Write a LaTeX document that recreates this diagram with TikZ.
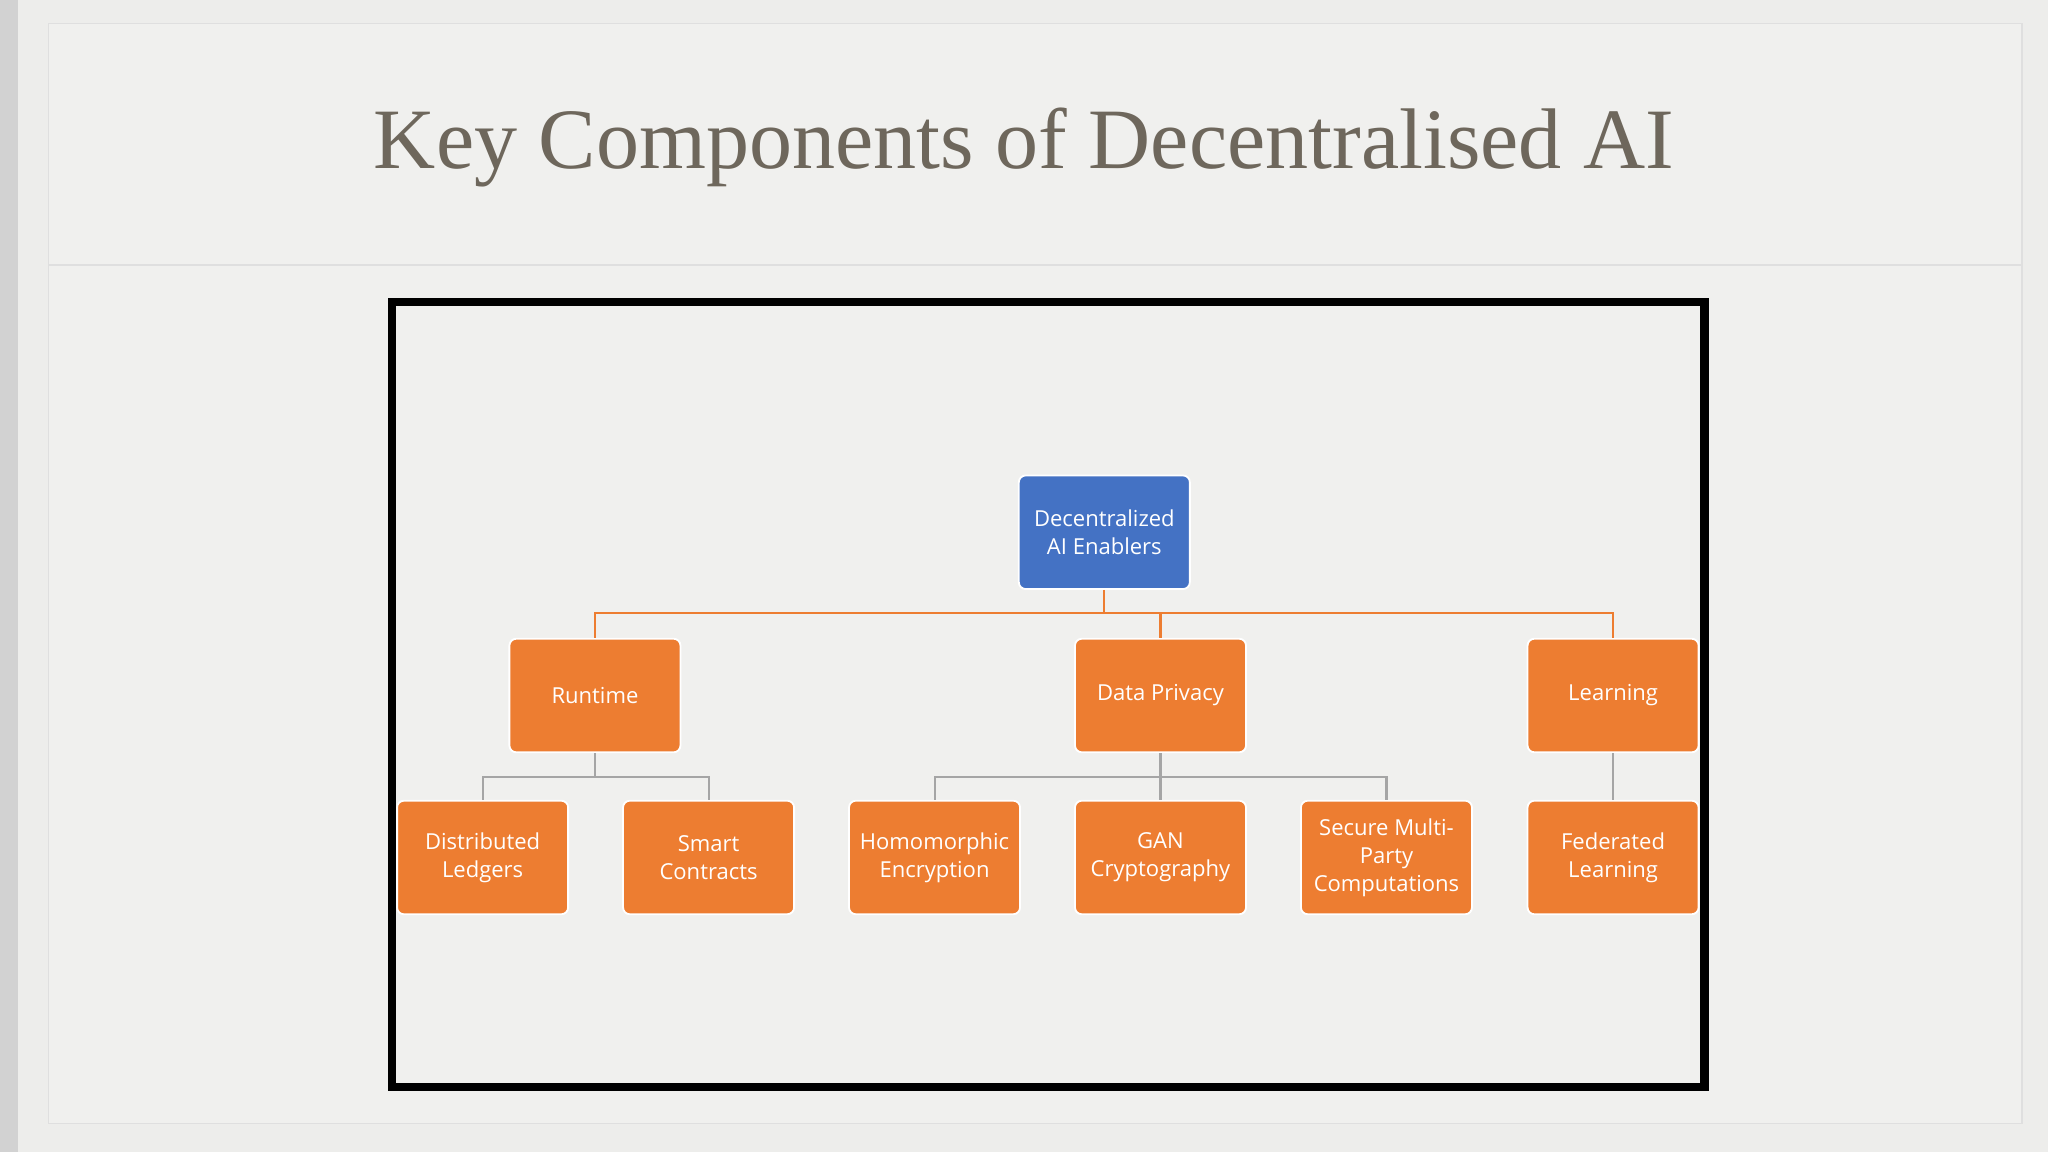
\documentclass[tikz,border=0pt]{standalone}
\usepackage{fontspec}
\setmainfont{Open Sans}
\newfontfamily\titlefont{Liberation Serif}
\definecolor{bg}{HTML}{EDEDEB}
\definecolor{panel}{HTML}{F0F0EE}
\definecolor{titlec}{HTML}{6E675C}
\definecolor{blueb}{HTML}{4472C4}
\definecolor{orb}{HTML}{ED7D31}
\definecolor{linec}{HTML}{A5A5A5}
\begin{document}
\begin{tikzpicture}[x=0.02cm,y=-0.02cm,
  box/.style={draw=white,line width=0.8pt,rounded corners=3pt,minimum width=2.62cm,minimum height=1.74cm,text=white,align=center,font=\fontsize{9.6}{12.2}\selectfont,inner sep=1pt},
  root/.style={box,fill=blueb},
  leaf/.style={box,fill=orb},
  oconn/.style={draw=orb,line width=0.9pt},
  gconn/.style={draw=linec,line width=0.9pt}]
\useasboundingbox (0,0) rectangle (1568,882);
\fill[bg] (0,0) rectangle (1568,882);
\fill[gray!35] (0,0) rectangle (14,882);
\fill[panel] (37,18) rectangle (1548,860);
\draw[gray!25,line width=0.6pt] (37,18) rectangle (1548,860);
\draw[gray!25,line width=0.6pt] (37,203) -- (1548,203);
\node[text=titlec,font=\titlefont\fontsize{37.5}{44}\selectfont] (title) at (784,113) {Key Components of Decentralised AI};
\draw[black,line width=3.5pt] (300,231) rectangle (1305,832);
\node[root] (r) at (845.5,407.5) {Decentralized\\AI Enablers};
\node[leaf] (rt) at (455.5,532.5) {Runtime};
\node[leaf] (dp) at (888.5,532.5) {Data Privacy};
\node[leaf] (le) at (1235,532.5) {Learning};
\node[leaf] (dl) at (369.5,656.5) {Distributed\\Ledgers};
\node[leaf] (sc) at (542.5,656.5) {Smart\\Contracts};
\node[leaf] (he) at (715.5,656.5) {Homomorphic\\Encryption};
\node[leaf] (gan) at (888.5,656.5) {GAN\\Cryptography};
\node[leaf] (smp) at (1061.5,656.5) {Secure Multi-\\Party\\Computations};
\node[leaf] (fl) at (1235,656.5) {Federated\\Learning};
\coordinate (j) at (845.5,469);
\draw[oconn] (r.south) -- (j);
\draw[oconn] (j) -| (rt.north);
\draw[oconn] (j) -| (dp.north);
\draw[oconn] (j) -| (le.north);
\coordinate (j1) at (455.5,595);
\draw[gconn] (rt.south) -- (j1) -| (dl.north);
\draw[gconn] (j1) -| (sc.north);
\coordinate (j2) at (888.5,595);
\draw[gconn] (dp.south) -- (gan.north);
\draw[gconn] (j2) -| (he.north);
\draw[gconn] (j2) -| (smp.north);
\draw[gconn] (le.south) -- (fl.north);
\end{tikzpicture}
\end{document}
